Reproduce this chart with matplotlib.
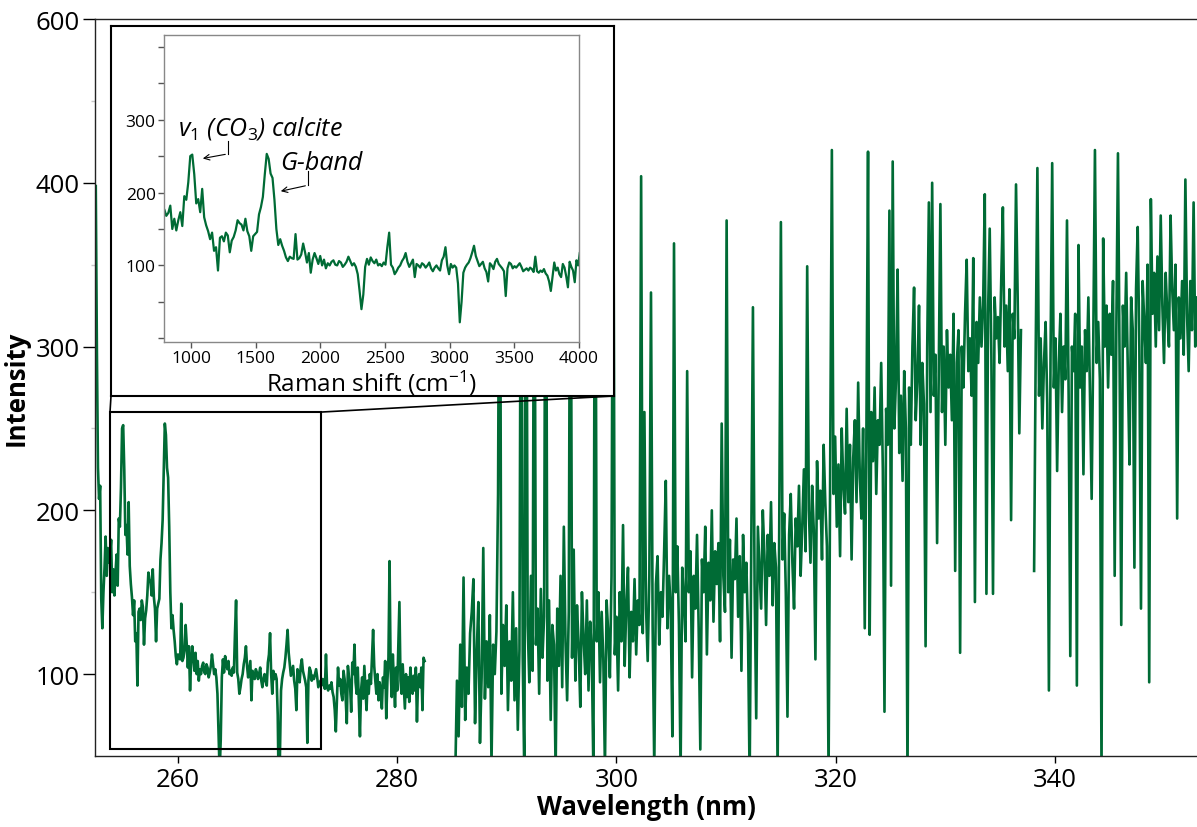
import numpy as np
import matplotlib.pyplot as plt
from matplotlib.patches import Rectangle, ConnectionPatch

plt.rcParams['font.family'] = ['Open Sans', 'DejaVu Sans']
plt.rcParams['mathtext.fontset'] = 'custom'
plt.rcParams['mathtext.rm'] = 'Open Sans'
plt.rcParams['mathtext.it'] = 'Open Sans:italic'

GREEN = '#006b35'
LASER_NM = 248.6   # excitation wavelength used for the Raman-shift inset

# segment 1: 252.5 - 282.5 nm, 0.1 nm step
seg1_start, seg1_step = 252.5, 0.1
seg1_int = [
    398, 300, 226, 207, 215, 146, 128, 150, 165, 184, 160,
    177, 168, 172, 182, 150, 164, 148, 162, 173, 154,
    195, 190, 214, 250, 252, 225, 185, 191, 173, 205,
    166, 155, 147, 136, 145, 120, 125, 93, 138, 140,
    133, 145, 141, 118, 134, 139, 148, 162, 158, 156,
    148, 164, 147, 140, 120, 140, 143, 146, 170, 180,
    194, 225, 253, 246, 226, 220, 190, 150, 128, 136,
    127, 120, 111, 106, 112, 110, 109, 143, 108, 110,
    115, 130, 118, 104, 117, 90, 108, 117, 110, 102,
    113, 100, 108, 96, 103, 100, 105, 107, 101, 100,
    106, 104, 98, 101, 105, 112, 106, 100, 103, 98,
    88, 65, 40, 60, 98, 109, 101, 111, 106, 103,
    108, 100, 102, 99, 104, 101, 125, 145, 101, 97,
    88, 92, 97, 100, 106, 110, 117, 105, 98, 103,
    108, 84, 102, 100, 97, 103, 101, 97, 100, 104,
    96, 92, 97, 100, 96, 93, 107, 112, 125, 100,
    88, 102, 97, 100, 97, 75, 22, 50, 90, 97,
    101, 104, 110, 118, 127, 113, 106, 99, 102, 105,
    96, 91, 78, 103, 100, 95, 105, 109, 102, 99,
    96, 92, 58, 96, 104, 102, 96, 99, 97, 100,
    103, 98, 92, 94, 96, 93, 97, 95, 91, 112,
    92, 90, 93, 91, 95, 89, 86, 78, 65, 85,
    104, 93, 97, 88, 84, 102, 97, 85, 70, 105,
    98, 93, 77, 107, 100, 118,
    95, 88, 104, 82, 62, 90, 98, 85, 105, 92,
    78, 96, 88, 100, 94, 110, 127, 105, 96, 88,
    100, 84, 95, 90, 79, 98, 92, 108, 73, 95,
    110, 169, 102, 86, 112, 95, 80, 104, 90, 118,
    144, 96, 88, 106, 92, 79, 100, 86, 98, 83,
    104, 94, 88, 99, 90, 104, 71, 96, 100, 92,
    104, 78, 110, 108,
]

# segment 2a: 285.3 - 336.9 nm, 0.15 nm step
seg2a_start, seg2_step = 285.3, 0.15
seg2a_int = [
    40, 96, 62, 118, 80, 159, 72, 104, 88, 125,
    138, 158, 70, 112, 144, 58, 98, 177, 85, 120,
    92, 136, 45, 118, 100, 126, 210, 470, 88, 130,
    105, 142, 78, 120, 96, 150, 84, 128, 66, 115,
    450, 110, 35, 480, 130, 95, 160, 102, 440, 118,
    140, 88, 152, 110, 135, 480, 96, 145, 72, 130,
    118, 40, 140, 105, 160, 92, 190, 120, 84, 138,
    460, 110, 176, 96, 142, 118, 80, 150, 122, 100,
    145, 90, 132, 112, 38, 470, 120, 150, 95, 138,
    110, 42, 145, 125, 98, 160, 455, 112, 135, 90,
    150, 120, 191, 105, 142, 165, 98, 138, 120, 158,
    112, 145, 130, 404, 125, 260, 140, 108, 160, 333,
    130, 42, 155, 172, 118, 150, 135, 175, 218, 128,
    160, 140, 62, 363, 150, 178, 130, 40, 165, 145,
    120, 285, 150, 175, 98, 160, 140, 185, 128, 54,
    170, 150, 190, 112, 168, 145, 200, 132, 175, 155,
    180, 120, 253, 160, 138, 377, 150, 182, 110, 170,
    158, 195, 135, 172, 102, 185, 150, 168, 125, 35,
    180, 324, 155, 73, 190, 165, 140, 200, 172, 130,
    185, 160, 205, 142, 180, 165, 40, 190, 376, 170,
    198, 150, 74, 185, 210, 168, 140, 195, 178, 215,
    160, 190, 225, 175, 349, 200, 168, 215, 188, 109,
    230, 195, 212, 170, 240, 205, 178, 38, 225, 420,
    210, 245, 190, 228, 172, 250, 215, 198, 262, 205,
    240, 170, 232, 255, 205, 278, 220, 195, 250, 128,
    245, 419, 124, 260, 230, 275, 210, 255, 240, 290,
    225, 77, 262, 240, 383, 154, 413, 250, 280, 347,
    235, 270, 218, 285, 250, 35, 275, 240, 300, 336,
    255, 280, 325, 240, 290, 265, 117, 300, 388, 260,
    400, 270, 295, 180, 285, 387, 260, 300, 240, 310,
    275, 295, 255, 320, 163, 290, 310, 113, 300, 275,
    320, 353, 285, 305, 270, 354, 144, 315, 290, 330,
    300, 325, 393, 149, 320, 372, 295, 149, 330, 305,
    318, 290, 340, 385, 300, 325, 285, 335, 194, 320,
    305, 399, 330, 247, 310,
]

# segment 2b: 338.1 - 352.95 nm, 0.15 nm step
seg2b_start = 338.1
seg2b_int = [
    163, 300, 409, 270, 305, 250, 290, 315, 265, 90,
    295, 412, 275, 305, 224, 290, 320, 260, 300, 280,
    377, 270, 111, 300, 285, 320, 93, 362, 275, 300,
    222, 310, 285, 330, 270, 207, 305, 420, 290, 315,
    280, 38, 366, 300, 325, 275, 320, 295, 340, 160,
    310, 418, 290, 130, 325, 300, 345, 285, 228, 330,
    310, 165, 335, 373, 300, 140, 340, 315, 290, 350,
    95, 390, 320, 345, 300, 355, 310, 380, 325, 290,
    345, 320, 300, 380, 335, 310, 350, 195, 330, 305,
    340, 295, 402, 320, 285, 340, 310, 388, 300, 330,
]

wl1 = seg1_start + seg1_step * np.arange(len(seg1_int))
wl2a = seg2a_start + seg2_step * np.arange(len(seg2a_int))
wl2b = seg2b_start + seg2_step * np.arange(len(seg2b_int))
raman1 = 1e7 / LASER_NM - 1e7 / wl1

W, H = 1197, 828
fig = plt.figure(figsize=(W / 100, H / 100), dpi=100)

# main axes
ax = fig.add_axes([95 / W, 71 / H, 1102 / W, 737 / H])
for wl, inten in [(wl1, seg1_int), (wl2a, seg2a_int), (wl2b, seg2b_int)]:
    ax.plot(wl, inten, color=GREEN, lw=1.9)
ax.set_xlim(252.43, 352.96)
ax.set_ylim(50, 500)
ax.set_xticks([260, 280, 300, 320, 340])
ax.set_yticks([100, 200, 300, 400, 500])
ax.set_yticklabels(['100', '200', '300', '400', '600'])
ax.set_yticks([150, 250, 350, 450], minor=True)
ax.tick_params(axis='y', which='major', length=9, width=1, labelsize=18.5, pad=2)
ax.tick_params(axis='y', which='minor', length=3, width=1, color='#c8c8c8')
ax.tick_params(axis='x', which='major', length=5, width=1, labelsize=18.5, pad=3)
ax.spines['right'].set_visible(False)
for s in ['left', 'top', 'bottom']:
    ax.spines[s].set_linewidth(1.0)
    ax.spines[s].set_color('#222222')
ax.set_xlabel('Wavelength (nm)', fontsize=18.5, fontweight='bold', labelpad=1)
ax.set_ylabel('Intensity', fontsize=18.5, fontweight='bold', labelpad=4)

# zoom box on the main spectrum
zx0, zx1, zy0, zy1 = 253.8, 273.05, 54.2, 260
ax.add_patch(Rectangle((zx0, zy0), zx1 - zx0, zy1 - zy0, fill=False,
                       ec='black', lw=1.5, zorder=3))

# white framed box that holds the inset
box = fig.add_axes([111 / W, 1 - 397 / H, 503 / W, 370 / H])
box.set_xticks([])
box.set_yticks([])
box.set_facecolor('white')
for s in box.spines.values():
    s.set_linewidth(1.5)
    s.set_color('black')

for xa, xb in [(zx0, 0), (zx1, 1)]:
    con = ConnectionPatch(xyA=(xa, zy1), coordsA=ax.transData,
                          xyB=(xb, 0), coordsB=box.transAxes,
                          color='black', lw=1.2)
    fig.add_artist(con)

# inset: same data against Raman shift
axin = fig.add_axes([164 / W, 1 - 343 / H, 415 / W, 307 / H])
axin.plot(raman1, seg1_int, color=GREEN, lw=1.6)
axin.set_xlim(791, 4000)
axin.set_ylim(-5, 416)
axin.set_xticks([1000, 1500, 2000, 2500, 3000, 3500, 4000])
axin.set_yticks([100, 200, 300])
axin.set_yticks([0, 50, 150, 250, 350, 400], minor=True)
axin.tick_params(which='both', length=4, width=1, color='#555555', labelsize=12.5, pad=2)
for s in axin.spines.values():
    s.set_linewidth(1.0)
    s.set_color('#888888')
axin.set_xlabel(r'Raman shift (cm$^{-1}$)', fontsize=17.5, labelpad=1)

axin.text(900, 280, r'v$_{\mathit{1}}$ (CO$_{\mathit{3}}$) calcite',
          fontsize=18, style='italic')
axin.text(1688, 232, 'G-band', fontsize=18, style='italic')
axin.plot([1286, 1286], [271, 253], color='black', lw=0.8)
axin.annotate('', xy=(1070, 246), xytext=(1286, 253),
              arrowprops=dict(arrowstyle='->', lw=0.8, color='black'))
axin.plot([1905, 1905], [229, 210], color='black', lw=0.8)
axin.annotate('', xy=(1673, 201), xytext=(1905, 210),
              arrowprops=dict(arrowstyle='->', lw=0.8, color='black'))

fig.savefig('out.png', dpi=100)
